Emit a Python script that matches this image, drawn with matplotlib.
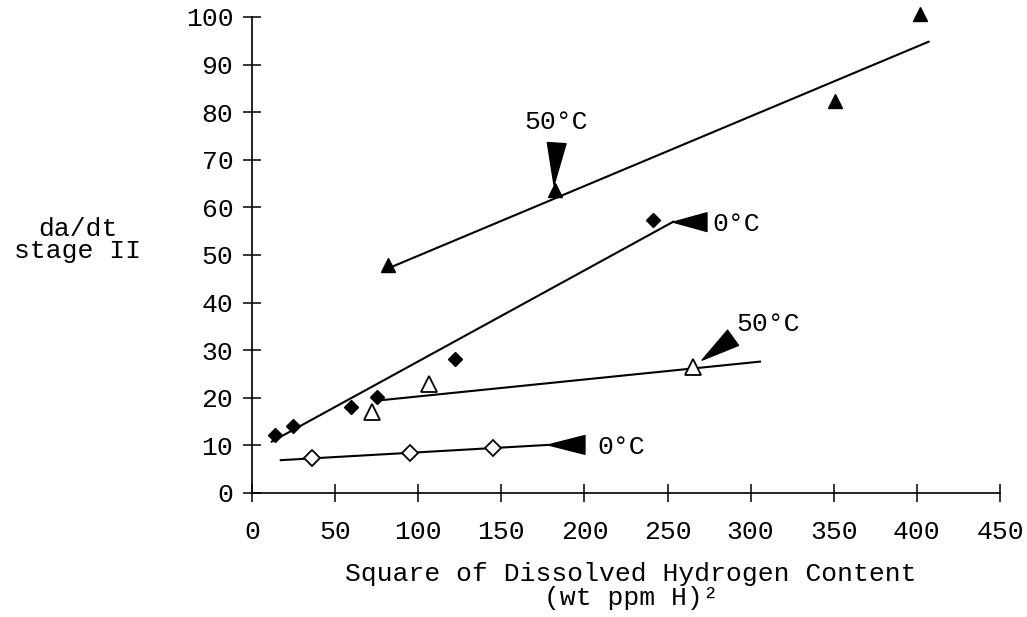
import matplotlib
matplotlib.use("Agg")
import matplotlib.pyplot as plt

plt.rcParams['font.family'] = ['Liberation Mono', 'DejaVu Sans Mono']

# 50 C, filled triangles
hot_fill_x = [82, 182, 351, 402]
hot_fill_y = [47.9, 63.6, 82.4, 100.6]
hot_fill_line_x = [84, 407]
hot_fill_line_y = [47.5, 94.8]

# 0 C, filled diamonds
cold_fill_x = [13.8, 24.8, 59.4, 75.0, 122.0, 241.5]
cold_fill_y = [12.2, 14.1, 18.1, 20.2, 28.1, 57.3]
cold_fill_line_x = [11.9, 253.5]
cold_fill_line_y = [10.8, 57.0]

# 50 C, open triangles
hot_open_x = [72, 106.7, 265.5]
hot_open_y = [17.1, 23.0, 26.4]
hot_open_line_x = [75, 305.6]
hot_open_line_y = [19.4, 27.6]

# 0 C, open diamonds
cold_open_x = [35.9, 95.0, 145.2]
cold_open_y = [7.3, 8.5, 9.4]
cold_open_line_x = [17.3, 178]
cold_open_line_y = [6.9, 10.1]

x_ticks = [0, 50, 100, 150, 200, 250, 300, 350, 400, 450]
y_ticks = [0, 10, 20, 30, 40, 50, 60, 70, 80, 90, 100]

W, H = 1027, 617
fig = plt.figure(figsize=(W / 100, H / 100), dpi=100)
ax = fig.add_axes([252 / W, 1 - 493 / H, 748 / W, 476 / H])

ax.plot(hot_fill_line_x, hot_fill_line_y, color='k', lw=1.5)
ax.plot(cold_fill_line_x, cold_fill_line_y, color='k', lw=1.5)
ax.plot(hot_open_line_x, hot_open_line_y, color='k', lw=1.5)
ax.plot(cold_open_line_x, cold_open_line_y, color='k', lw=1.5)

ax.plot(hot_fill_x, hot_fill_y, '^', color='k', ms=9.5, ls='none', clip_on=False)
ax.plot(cold_fill_x, cold_fill_y, 'D', color='k', ms=7, ls='none', clip_on=False)
ax.plot(hot_open_x, hot_open_y, '^', mfc='white', mec='k', mew=1.3, ms=11,
        ls='none', clip_on=False)
ax.plot(cold_open_x, cold_open_y, 'D', mfc='white', mec='k', mew=1.3, ms=8,
        ls='none', clip_on=False)

# labels with wedge arrows: (text, text pos, tail, head, ha, va)
notes = [
    ("50°C", (183, 75.5), (183.3, 73.5), (181.7, 64.7), 'center', 'bottom'),
    ("0°C", (277, 56.5), (273.7, 56.9), (253.3, 56.9), 'left', 'center'),
    ("50°C", (291.5, 35.5), (289.4, 32.6), (270.7, 27.9), 'left', 'center'),
    ("0°C", (207.5, 9.7), (200.3, 10.1), (178.1, 10.1), 'left', 'center'),
]
for txt, tpos, tail, head, ha, va in notes:
    ax.annotate('', xy=head, xytext=tail,
                arrowprops=dict(arrowstyle='wedge,tail_width=0.75,shrink_factor=0.5',
                                fc='k', ec='k', shrinkA=0, shrinkB=0,
                                mutation_scale=18))
    ax.text(tpos[0], tpos[1], txt, ha=ha, va=va, fontsize=19)

ax.set_xlim(0, 450)
ax.set_ylim(0, 100)
ax.set_xticks(x_ticks)
ax.set_yticks(y_ticks)
ax.spines['top'].set_visible(False)
ax.spines['right'].set_visible(False)
ax.spines['left'].set_linewidth(1.2)
ax.spines['bottom'].set_linewidth(1.2)
ax.tick_params(axis='both', direction='inout', length=13, width=1.1,
               labelsize=19)
ax.tick_params(axis='y', pad=7)
ax.tick_params(axis='x', pad=13)

fig.text(78 / W, 1 - 240 / H, "da/dt\nstage II", ha='center', va='center',
         multialignment='center', linespacing=0.85, fontsize=19)
fig.text(631 / W, 1 - 574 / H, "Square of Dissolved Hydrogen Content",
         ha='center', va='center', fontsize=19)
fig.text(631 / W, 1 - 598 / H, "(wt ppm H)²", ha='center', va='center',
         fontsize=19)

fig.savefig("out.png", dpi=100)
